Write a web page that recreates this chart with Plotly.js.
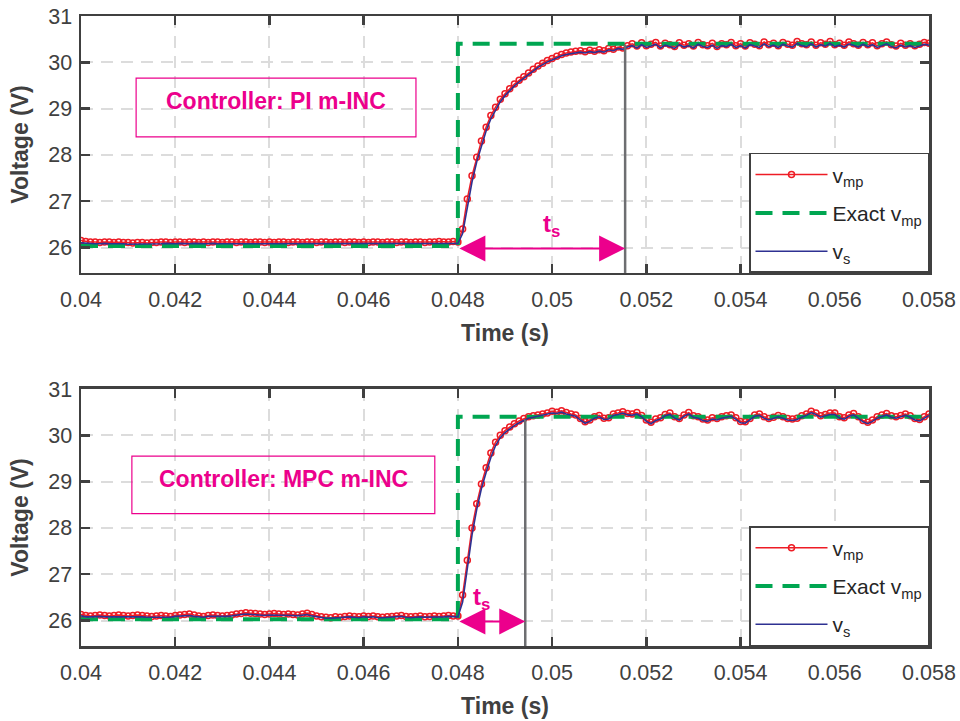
<!DOCTYPE html>
<html>
<head>
<meta charset="utf-8">
<script src="https://cdn.plot.ly/plotly-3.0.1.min.js"></script>
<style>html,body{margin:0;padding:0;background:#fff;}#chart{width:960px;height:721px;}</style>
</head>
<body>
<div id="chart"></div>
<script>
// ---------- DATA ----------
const timeS = [
0.0400,0.0401,0.0402,0.0403,0.0404,0.0405,0.0406,0.0407,0.0408,0.0409,
0.0410,0.0411,0.0412,0.0413,0.0414,0.0415,0.0416,0.0417,0.0418,0.0419,
0.0420,0.0421,0.0422,0.0423,0.0424,0.0425,0.0426,0.0427,0.0428,0.0429,
0.0430,0.0431,0.0432,0.0433,0.0434,0.0435,0.0436,0.0437,0.0438,0.0439,
0.0440,0.0441,0.0442,0.0443,0.0444,0.0445,0.0446,0.0447,0.0448,0.0449,
0.0450,0.0451,0.0452,0.0453,0.0454,0.0455,0.0456,0.0457,0.0458,0.0459,
0.0460,0.0461,0.0462,0.0463,0.0464,0.0465,0.0466,0.0467,0.0468,0.0469,
0.0470,0.0471,0.0472,0.0473,0.0474,0.0475,0.0476,0.0477,0.0478,0.0479,
0.0480,0.0481,0.0482,0.0483,0.0484,0.0485,0.0486,0.0487,0.0488,0.0489,
0.0490,0.0491,0.0492,0.0493,0.0494,0.0495,0.0496,0.0497,0.0498,0.0499,
0.0500,0.0501,0.0502,0.0503,0.0504,0.0505,0.0506,0.0507,0.0508,0.0509,
0.0510,0.0511,0.0512,0.0513,0.0514,0.0515,0.0516,0.0517,0.0518,0.0519,
0.0520,0.0521,0.0522,0.0523,0.0524,0.0525,0.0526,0.0527,0.0528,0.0529,
0.0530,0.0531,0.0532,0.0533,0.0534,0.0535,0.0536,0.0537,0.0538,0.0539,
0.0540,0.0541,0.0542,0.0543,0.0544,0.0545,0.0546,0.0547,0.0548,0.0549,
0.0550,0.0551,0.0552,0.0553,0.0554,0.0555,0.0556,0.0557,0.0558,0.0559,
0.0560,0.0561,0.0562,0.0563,0.0564,0.0565,0.0566,0.0567,0.0568,0.0569,
0.0570,0.0571,0.0572,0.0573,0.0574,0.0575,0.0576,0.0577,0.0578,0.0579,
0.0580];

// Top panel (PI m-INC)
const vmpPI = [
26.15,26.13,26.12,26.12,26.11,26.12,26.12,26.11,26.12,26.11,
26.11,26.10,26.11,26.11,26.10,26.11,26.11,26.12,26.12,26.11,
26.12,26.12,26.11,26.12,26.12,26.11,26.12,26.11,26.12,26.12,
26.11,26.12,26.12,26.11,26.12,26.12,26.11,26.12,26.12,26.11,
26.12,26.11,26.12,26.12,26.11,26.12,26.12,26.11,26.12,26.12,
26.11,26.12,26.12,26.11,26.12,26.12,26.11,26.12,26.12,26.11,
26.12,26.11,26.12,26.12,26.11,26.12,26.12,26.11,26.12,26.12,
26.11,26.12,26.12,26.11,26.12,26.12,26.13,26.12,26.12,26.13,
26.12,26.40,27.05,27.55,27.95,28.30,28.60,28.85,29.03,29.20,
29.32,29.43,29.53,29.61,29.69,29.77,29.85,29.92,29.98,30.04,
30.08,30.13,30.17,30.20,30.22,30.24,30.25,30.23,30.26,30.24,
30.27,30.25,30.30,30.28,30.33,30.31,30.36,
30.40,30.35,30.42,30.36,30.39,30.43,30.35,30.41,30.38,30.34,
30.42,30.37,30.40,30.35,30.43,30.38,30.36,30.41,30.34,30.40,
30.38,30.43,30.36,30.40,30.35,30.42,30.39,30.36,30.44,30.38,
30.41,30.36,30.43,30.39,30.37,30.45,30.40,30.38,30.44,30.37,
30.42,30.39,30.45,30.38,30.41,30.37,30.44,30.40,30.37,30.43,
30.38,30.42,30.36,30.40,30.44,30.38,30.35,30.41,30.37,30.40,
30.36,30.39,30.43,30.41];
const vsPI = [
26.10,26.09,26.08,26.08,26.08,26.09,26.08,26.08,26.09,26.08,
26.07,26.07,26.08,26.07,26.07,26.08,26.08,26.08,26.09,26.08,
26.08,26.09,26.08,26.08,26.09,26.08,26.08,26.08,26.09,26.08,
26.08,26.09,26.08,26.08,26.09,26.08,26.08,26.09,26.08,26.08,
26.09,26.08,26.08,26.09,26.08,26.08,26.09,26.08,26.08,26.09,
26.08,26.08,26.09,26.08,26.08,26.09,26.08,26.08,26.09,26.08,
26.08,26.08,26.09,26.08,26.08,26.09,26.08,26.08,26.09,26.08,
26.08,26.09,26.08,26.08,26.09,26.08,26.09,26.09,26.08,26.09,
26.09,26.30,26.90,27.42,27.85,28.20,28.52,28.78,28.98,29.15,
29.28,29.39,29.49,29.58,29.66,29.74,29.82,29.89,29.95,30.01,
30.05,30.10,30.14,30.17,30.19,30.21,30.22,30.20,30.23,30.21,
30.24,30.22,30.27,30.25,30.30,30.28,30.33,
30.36,30.31,30.38,30.32,30.35,30.39,30.31,30.37,30.34,30.30,
30.38,30.33,30.36,30.31,30.39,30.34,30.32,30.37,30.30,30.36,
30.34,30.39,30.32,30.36,30.31,30.38,30.35,30.32,30.40,30.34,
30.37,30.32,30.39,30.35,30.33,30.41,30.36,30.34,30.40,30.33,
30.38,30.35,30.41,30.34,30.37,30.33,30.40,30.36,30.33,30.39,
30.34,30.38,30.32,30.36,30.40,30.34,30.31,30.37,30.33,30.36,
30.32,30.35,30.39,30.37];

// Bottom panel (MPC m-INC)
const vmpMPC = [
26.13,26.11,26.10,26.11,26.12,26.11,26.10,26.11,26.12,26.11,
26.10,26.11,26.12,26.11,26.10,26.09,26.10,26.11,26.10,26.09,
26.11,26.12,26.13,26.14,26.12,26.10,26.09,26.11,26.12,26.11,
26.10,26.11,26.12,26.14,26.15,26.17,26.16,26.15,26.14,26.13,
26.14,26.15,26.14,26.13,26.14,26.13,26.12,26.14,26.16,26.13,
26.10,26.08,26.07,26.06,26.08,26.07,26.09,26.10,26.09,26.08,
26.10,26.09,26.10,26.08,26.07,26.08,26.09,26.10,26.11,26.09,
26.08,26.09,26.10,26.08,26.09,26.10,26.09,26.10,26.11,26.10,
26.10,26.55,27.30,28.00,28.52,28.95,29.30,29.62,29.85,30.00,
30.10,30.18,30.25,30.31,30.36,
30.40,30.42,30.44,30.46,30.48,30.52,30.50,30.53,30.49,30.46,
30.44,30.36,30.29,30.33,30.40,30.43,30.37,30.38,30.46,30.48,
30.51,30.47,30.46,30.49,30.43,30.33,30.28,30.35,30.38,30.45,
30.48,30.40,30.36,30.44,30.49,30.42,30.40,30.35,30.33,30.38,
30.36,30.40,30.42,30.44,30.38,30.30,30.29,30.36,30.44,30.46,
30.40,30.36,30.39,30.43,30.40,30.36,30.35,30.37,30.42,30.46,
30.52,30.48,30.42,30.45,30.48,30.48,30.40,30.38,30.44,30.47,
30.40,30.32,30.28,30.33,30.40,30.44,30.47,30.42,30.40,30.43,
30.46,30.42,30.36,30.34,30.40,30.46];
const vsMPC = [
26.10,26.08,26.08,26.09,26.09,26.08,26.08,26.09,26.09,26.08,
26.08,26.09,26.09,26.08,26.07,26.07,26.08,26.08,26.07,26.07,
26.09,26.10,26.11,26.11,26.09,26.08,26.07,26.09,26.09,26.08,
26.08,26.09,26.10,26.12,26.13,26.14,26.13,26.12,26.12,26.11,
26.12,26.12,26.11,26.11,26.12,26.11,26.10,26.12,26.13,26.10,
26.08,26.06,26.05,26.05,26.06,26.06,26.07,26.08,26.07,26.06,
26.08,26.07,26.08,26.06,26.06,26.07,26.07,26.08,26.09,26.07,
26.06,26.07,26.08,26.07,26.07,26.08,26.07,26.08,26.09,26.08,
26.08,26.40,27.15,27.85,28.40,28.85,29.20,29.52,29.78,29.95,
30.06,30.14,30.21,30.27,30.32,
30.37,30.39,30.41,30.43,30.45,30.48,30.47,30.50,30.46,30.43,
30.41,30.33,30.26,30.30,30.37,30.40,30.34,30.35,30.43,30.45,
30.48,30.44,30.43,30.46,30.40,30.30,30.25,30.32,30.35,30.42,
30.45,30.37,30.33,30.41,30.46,30.39,30.37,30.32,30.30,30.35,
30.33,30.37,30.39,30.41,30.35,30.27,30.26,30.33,30.41,30.43,
30.37,30.33,30.36,30.40,30.37,30.33,30.32,30.34,30.39,30.43,
30.49,30.45,30.39,30.42,30.45,30.45,30.37,30.35,30.41,30.44,
30.37,30.29,30.25,30.30,30.37,30.41,30.44,30.39,30.37,30.40,
30.43,30.39,30.33,30.31,30.37,30.43];

// Exact MPP voltage (step change at 0.048 s)
const exactTime = [0.040, 0.048, 0.048, 0.058];
const exactVmp  = [26.03, 26.03, 30.40, 30.40];

// Settling times (s) and levels at which the settling marker starts
const stepTime = 0.048;
const settlePI = 0.05155;
const settleMPC = 0.04943;
const settleLevelPI = 30.38;
const settleLevelMPC = 30.34;

const controllerLabels = ['Controller: PI m-INC', 'Controller: MPC m-INC'];
const seriesNames = ['v<sub>mp</sub>', 'Exact v<sub>mp</sub>', 'v<sub>s</sub>'];
const xTickVals = [0.040,0.042,0.044,0.046,0.048,0.050,0.052,0.054,0.056,0.058];
const xTickText = ['0.04','0.042','0.044','0.046','0.048','0.05','0.052','0.054','0.056','0.058'];
const yTickVals = [26,27,28,29,30,31];
const yTickText = ['26','27','28','29','30','31'];
const yRange = [25.45, 31];
const xRange = [0.040, 0.058];

// ---------- STYLE ----------
const RED = '#ee1c25', GREEN = '#00a651', BLUE = '#2e3192', MAG = '#ec008c', GRAYL = '#6d6e71';
const FONT = 'Liberation Sans, Arial, Helvetica, sans-serif';
const AX = '#404040';

function panelTraces(vmp, vs, xa, ya, leg, settleT, settleLvl) {
  return [
    {x: timeS, y: vmp, xaxis: xa, yaxis: ya, type: 'scatter', mode: 'lines+markers', name: seriesNames[0],
     legend: leg, legendgroup: leg + 'a', line: {color: RED, width: 1.5},
     marker: {symbol: 'circle-open', size: 6, color: RED, line: {width: 1.5, color: RED}}},
    {x: exactTime, y: exactVmp, xaxis: xa, yaxis: ya, type: 'scatter', mode: 'lines', name: seriesNames[1],
     legend: leg, legendgroup: leg + 'b', line: {color: GREEN, width: 4, dash: '17px,10px'}},
    {x: timeS, y: vs, xaxis: xa, yaxis: ya, type: 'scatter', mode: 'lines', name: seriesNames[2],
     legend: leg, legendgroup: leg + 'c', line: {color: BLUE, width: 1.6}},
    {x: [settleT, settleT], y: [settleLvl, yRange[0]], xaxis: xa, yaxis: ya, type: 'scatter', mode: 'lines',
     showlegend: false, line: {color: GRAYL, width: 2.5}}
  ];
}

const data = [].concat(
  panelTraces(vmpPI, vsPI, 'x', 'y', 'legend', settlePI, settleLevelPI),
  panelTraces(vmpMPC, vsMPC, 'x2', 'y2', 'legend2', settleMPC, settleLevelMPC)
);

function xAxis(anchor) {
  return {
    anchor: anchor, domain: [0, 1], range: xRange, tickvals: xTickVals, ticktext: xTickText,
    showline: true, linecolor: AX, linewidth: 2.5, mirror: 'allticks',
    ticks: 'inside', ticklen: 9, tickwidth: 2.5, tickcolor: AX,
    showgrid: true, gridcolor: '#dcdcdc', gridwidth: 2, griddash: '12px,8px', zeroline: false,
    tickfont: {family: FONT, size: 21.5, color: AX}, ticklabelstandoff: 6,
    title: {text: 'Time (s)', font: {family: FONT, size: 23, color: AX, weight: 'bold'}, standoff: 14},
    automargin: false
  };
}
function yAxis(anchor, dom) {
  return {
    anchor: anchor, domain: dom, range: yRange, tickvals: yTickVals, ticktext: yTickText,
    showline: true, linecolor: AX, linewidth: 2.5, mirror: 'allticks',
    ticks: 'inside', ticklen: 9, tickwidth: 2.5, tickcolor: AX,
    showgrid: true, gridcolor: '#dcdcdc', gridwidth: 2, griddash: '12px,8px', zeroline: false,
    tickfont: {family: FONT, size: 21.5, color: AX}, ticklabelstandoff: 2,
    title: {text: 'Voltage (V)', font: {family: FONT, size: 23, color: AX, weight: 'bold'}, standoff: 13},
    automargin: false
  };
}

function legendCfg(yBottom) {
  return {
    x: 1, xanchor: 'right', y: yBottom, yanchor: 'bottom',
    bgcolor: '#ffffff', bordercolor: AX, borderwidth: 1.5,
    font: {family: FONT, size: 21, color: '#262626'}, traceorder: 'grouped', tracegroupgap: 8,
    itemwidth: 72
  };
}

const yDomTop = [0.6214, 0.9778];
const yDomBot = [0.1040, 0.4605];

function arrowAnn(xr, yr, t1) {
  return {xref: xr, yref: yr, axref: xr, ayref: yr, x: t1, y: 25.98, ax: stepTime, ay: 25.98,
    text: '', showarrow: true, arrowside: 'end+start', arrowhead: 2, startarrowhead: 2,
    arrowsize: 2.6, startarrowsize: 2.6, arrowwidth: 2, arrowcolor: MAG, standoff: 0, startstandoff: 0};
}

const layout = {
  width: 960, height: 721,
  margin: {l: 81, r: 31, t: 0, b: 0},
  paper_bgcolor: '#ffffff', plot_bgcolor: '#ffffff',
  showlegend: true,
  xaxis: xAxis('y'), yaxis: yAxis('x', yDomTop),
  xaxis2: xAxis('y2'), yaxis2: yAxis('x2', yDomBot),
  legend: legendCfg(yDomTop[0]),
  legend2: legendCfg(yDomBot[0]),
  shapes: [
    {type: 'rect', xref: 'x', yref: 'y', x0: 0.04117, x1: 0.04711, y0: 28.39, y1: 29.66,
     line: {color: MAG, width: 1.2}, fillcolor: 'rgba(0,0,0,0)'},
    {type: 'rect', xref: 'x2', yref: 'y2', x0: 0.04108, x1: 0.04751, y0: 28.31, y1: 29.55,
     line: {color: MAG, width: 1.2}, fillcolor: 'rgba(0,0,0,0)'}
  ],
  annotations: [
    {xref: 'x', yref: 'y', x: 0.04414, y: 29.17, text: controllerLabels[0], showarrow: false,
     font: {family: FONT, size: 23, color: MAG, weight: 'bold'}},
    {xref: 'x2', yref: 'y2', x: 0.04429, y: 29.05, text: controllerLabels[1], showarrow: false,
     font: {family: FONT, size: 23, color: MAG, weight: 'bold'}},
    arrowAnn('x', 'y', settlePI),
    arrowAnn('x2', 'y2', settleMPC),
    {xref: 'x', yref: 'y', x: 0.04998, y: 26.47, text: 't<sub>s</sub>', showarrow: false,
     font: {family: FONT, size: 24, color: MAG, weight: 'bold'}},
    {xref: 'x2', yref: 'y2', x: 0.04851, y: 26.48, text: 't<sub>s</sub>', showarrow: false,
     font: {family: FONT, size: 24, color: MAG, weight: 'bold'}}
  ]
};

Plotly.newPlot('chart', data, layout, {staticPlot: true, displayModeBar: false});
</script>
</body>
</html>
